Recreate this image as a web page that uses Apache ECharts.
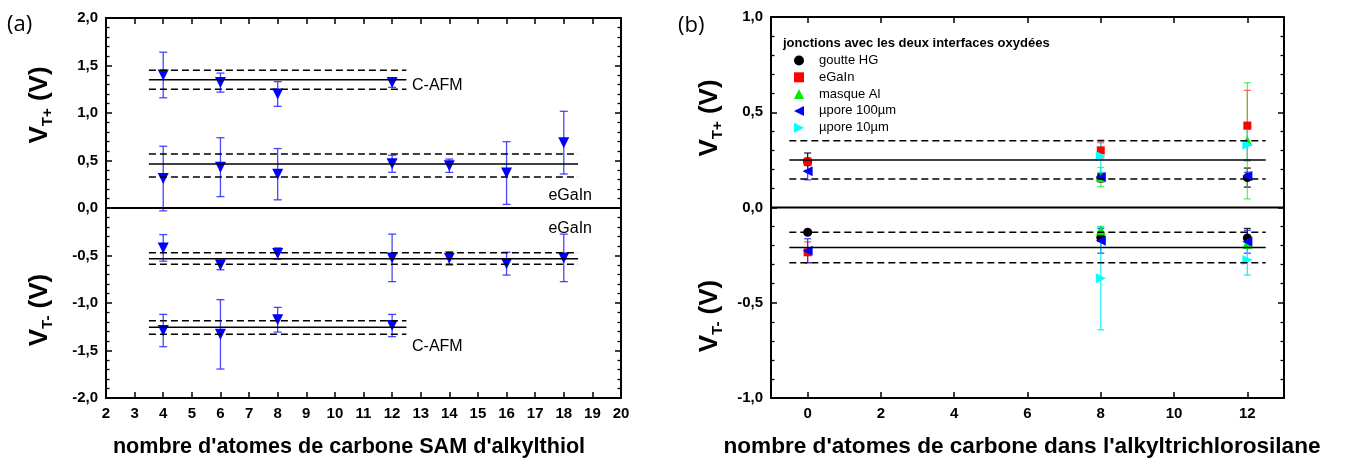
<!DOCTYPE html>
<html><head><meta charset="utf-8">
<script src="https://cdn.jsdelivr.net/npm/echarts@6/dist/echarts.min.js"></script>
<style>html,body{margin:0;padding:0;background:#fff}#c{width:1351px;height:464px}</style>
</head><body><div id="c"></div>
<script>
// ---------- Panel (a) data ----------
const aXTicks = [2, 20];
const aCafmX = [4, 6, 8, 12];
const aCafmPlusY = [1.40, 1.32, 1.20, 1.32];
const aCafmPlusErr = [0.24, 0.10, 0.13, 0.05];
const aCafmMinusY = [-1.29, -1.33, -1.176, -1.237];
const aCafmMinusErr = [0.17, 0.365, 0.13, 0.117];
const aEgainX = [4, 6, 8, 12, 14, 16, 18];
const aEgainPlusY = [0.31, 0.43, 0.356, 0.466, 0.445, 0.368, 0.688];
const aEgainPlusErr = [0.34, 0.31, 0.27, 0.09, 0.07, 0.33, 0.33];
const aEgainMinusY = [-0.42, -0.60, -0.48, -0.525, -0.53, -0.586, -0.525];
const aEgainMinusErr = [0.14, 0.05, 0.06, 0.25, 0.07, 0.12, 0.25];
// reference lines: [mean, dashed1, dashed2]
const aCafmPlusLines = [1.35, 1.45, 1.25];
const aCafmMinusLines = [-1.256, -1.186, -1.33];
const aEgainPlusLines = [0.463, 0.568, 0.326];
const aEgainMinusLines = [-0.533, -0.47, -0.593];
const aCafmSpan = [3.5, 12.5];
const aEgainSpan = [3.5, 18.5];

// ---------- Panel (b) data ----------
const bNames = ['goutte HG', 'eGaIn', 'masque Al', 'µpore 100µm', 'µpore 10µm'];
const bHgX = [0, 8, 12, 0, 8, 12];
const bHgY = [0.24, 0.155, 0.157, -0.13, -0.158, -0.16];
const bHgErr = [0.046, 0.02, 0.05, 0.01, 0.02, 0.05];
const bEgX = [0, 8, 12, 0];
const bEgY = [0.24, 0.30, 0.43, -0.235];
const bEgErr = [0.02, 0.04, 0.185, 0.055];
const bAlX = [8, 12, 8, 12];
const bAlY = [0.16, 0.35, -0.12, -0.19];
const bAlErr = [0.05, 0.305, 0.02, 0.015];
const bP100X = [0, 8, 12, 0, 8, 12];
const bP100Y = [0.19, 0.16, 0.165, -0.227, -0.175, -0.18];
const bP100Err = [0.045, 0.02, 0.02, 0.063, 0.065, 0.06];
const bP10X = [8, 12, 8, 12];
const bP10Y = [0.27, 0.33, -0.372, -0.275];
const bP10Err = [0.085, 0.08, 0.27, 0.08];
const bPlusLines = [0.25, 0.35, 0.15];
const bMinusLines = [-0.21, -0.13, -0.29];
const bSpan = [-0.5, 12.5];
const bXLabels = [0, 2, 4, 6, 8, 10, 12];

// ---------- helpers ----------
const F = 'Liberation Sans, Arial, sans-serif';
const zip3 = (xs, ys, es) => xs.map((x, i) => [x, ys[i], es ? es[i] : 0]);
const fmt = v => (Math.abs(v) < 1e-9 ? 0 : v).toFixed(1).replace('.', ',');
const TRI_LEFT = 'path://M0,5L10,0L10,10Z';
const TRI_RIGHT = 'path://M10,5L0,0L0,10Z';

function errSeries(xi, yi, data, color, capW, name) {
  return {
    type: 'custom', name: name, xAxisIndex: xi, yAxisIndex: yi, data: data, clip: true, silent: true,
    encode: { x: 0, y: 1 },
    renderItem: function (params, api) {
      const x = api.value(0), y = api.value(1), e = api.value(2);
      const t = api.coord([x, y + e]), b = api.coord([x, y - e]);
      const h = capW / 2;
      const st = { stroke: color, lineWidth: 1.3 };
      return { type: 'group', children: [
        { type: 'line', shape: { x1: t[0], y1: t[1], x2: b[0], y2: b[1] }, style: st },
        { type: 'line', shape: { x1: t[0] - h, y1: t[1], x2: t[0] + h, y2: t[1] }, style: st },
        { type: 'line', shape: { x1: b[0] - h, y1: b[1], x2: b[0] + h, y2: b[1] }, style: st }
      ] };
    }
  };
}
function refLine(xi, yi, span, y, dashed, w) {
  return {
    type: 'line', xAxisIndex: xi, yAxisIndex: yi, data: [[span[0], y], [span[1], y]],
    symbol: 'none', silent: true, animation: false,
    lineStyle: { color: '#000', width: w || 1.5, type: dashed ? [7, 4] : 'solid' }
  };
}
function scatter(xi, yi, data, name, symbol, size, color, rot) {
  return {
    type: 'scatter', name: name, xAxisIndex: xi, yAxisIndex: yi, data: data.map(d => [d[0], d[1]]),
    symbol: symbol, symbolSize: size, symbolRotate: rot || 0,
    itemStyle: { color: color, opacity: 1 }, animation: false
  };
}
function yAx(gi, min, max, pos, labels) {
  return {
    type: 'value', gridIndex: gi, min: min, max: max, interval: 0.5, position: pos,
    axisLine: { show: true, onZero: false, lineStyle: { color: '#000', width: 2 } },
    axisTick: { show: true, inside: true, length: 6, lineStyle: { color: '#000', width: 1.5 } },
    minorTick: { show: true, splitNumber: 5, length: 3.5, lineStyle: { color: '#000', width: 1.3 } },
    splitLine: { show: false },
    axisLabel: { show: labels, formatter: fmt, color: '#000', fontFamily: F, fontWeight: 'bold', fontSize: 15, margin: 8 }
  };
}
function xAx(gi, min, max, interval, pos, labels, custom) {
  const ax = {
    type: 'value', gridIndex: gi, min: min, max: max, interval: interval, position: pos,
    axisLine: { show: true, onZero: false, lineStyle: { color: '#000', width: 2 } },
    axisTick: { show: true, inside: true, length: 6, lineStyle: { color: '#000', width: 1.5 } },
    splitLine: { show: false },
    axisLabel: { show: labels, color: '#000', fontFamily: F, fontWeight: 'bold', fontSize: 15, margin: 8 }
  };
  if (custom) { ax.axisTick.customValues = custom; ax.axisLabel.customValues = custom; }
  return ax;
}
function yTitle(x, y, sub) {
  return {
    type: 'text', x: x, y: y, rotation: Math.PI / 2,
    style: {
      text: '{v|V}{s|' + sub + '}{v| (V)}',
      rich: {
        v: { fontSize: 26, fontWeight: 'bold', fontFamily: F, lineHeight: 30, verticalAlign: 'middle', fill: '#000' },
        s: { fontSize: 15, fontWeight: 'bold', fontFamily: F, lineHeight: 15, verticalAlign: 'bottom', fill: '#000' }
      },
      align: 'center', verticalAlign: 'middle'
    }
  };
}
function txt(x, y, s, size, weight, align, family) {
  return { type: 'text', x: x, y: y, style: { text: s, fontSize: size, fontWeight: weight || 'normal', fontFamily: family || F, fill: '#000', align: align || 'left', verticalAlign: 'middle' } };
}

const series = [];
// Panel (a)
series.push(refLine(0, 0, aXTicks, 0, false, 2));
[aCafmPlusLines, aCafmMinusLines].forEach(L => L.forEach((v, i) => series.push(refLine(0, 0, aCafmSpan, v, i > 0))));
[aEgainPlusLines, aEgainMinusLines].forEach(L => L.forEach((v, i) => series.push(refLine(0, 0, aEgainSpan, v, i > 0))));
const aBlue = '#0000ff', aErr = 'rgba(40,40,255,0.85)';
const aSets = [
  zip3(aCafmX, aCafmPlusY, aCafmPlusErr), zip3(aCafmX, aCafmMinusY, aCafmMinusErr),
  zip3(aEgainX, aEgainPlusY, aEgainPlusErr), zip3(aEgainX, aEgainMinusY, aEgainMinusErr)
];
aSets.forEach(d => series.push(errSeries(0, 0, d, aErr, 8, 'err')));
aSets.forEach(d => series.push(scatter(0, 0, d, 'a', 'triangle', 11, aBlue, 180)));

// Panel (b)
series.push(refLine(2, 2, [-1, 13], 0, false, 2));
bPlusLines.forEach((v, i) => series.push(refLine(2, 2, bSpan, v, i > 0)));
bMinusLines.forEach((v, i) => series.push(refLine(2, 2, bSpan, v, i > 0)));
const bDefs = [
  [bHgX, bHgY, bHgErr, 'circle', 9, '#000000', 'rgba(0,0,0,0.85)'],
  [bEgX, bEgY, bEgErr, 'rect', 8, '#ff0000', 'rgba(255,40,40,0.7)'],
  [bAlX, bAlY, bAlErr, 'triangle', 10, '#00ee00', 'rgba(40,230,40,0.7)'],
  [bP100X, bP100Y, bP100Err, TRI_LEFT, 10, '#0000ff', 'rgba(30,30,255,0.8)'],
  [bP10X, bP10Y, bP10Err, TRI_RIGHT, 10, '#00ffff', 'rgba(0,235,255,0.85)']
];
bDefs.forEach((d, k) => {
  const data = zip3(d[0], d[1], d[2]);
  series.push(errSeries(2, 2, data, d[6], 7, bNames[k] + ' err'));
  series.push(scatter(2, 2, data, bNames[k], d[3], d[4], d[5], 0));
});

const option = {
  animation: false,
  backgroundColor: '#fff',
  grid: [
    { left: 106, top: 18, width: 515, height: 380 },
    { left: 771, top: 17, width: 513, height: 381 }
  ],
  xAxis: [
    xAx(0, 2, 20, 1, 'bottom', true),
    xAx(0, 2, 20, 1, 'top', false),
    xAx(1, -1, 13, 1, 'bottom', true, bXLabels),
    xAx(1, -1, 13, 1, 'top', false, bXLabels)
  ],
  yAxis: [
    yAx(0, -2, 2, 'left', true),
    yAx(0, -2, 2, 'right', false),
    yAx(1, -1, 1, 'left', true),
    yAx(1, -1, 1, 'right', false)
  ],
  legend: {
    data: bNames.map((n, k) => ({ name: n, icon: bDefs[k][3], itemStyle: { color: bDefs[k][5] } })),
    orient: 'vertical', left: 794, top: 54, padding: 0,
    itemWidth: 10, itemHeight: 10, itemGap: 3.8, selectedMode: false,
    textStyle: { fontFamily: F, fontSize: 13, color: '#000', padding: [0, 0, 0, 10] }
  },
  series: series,
  graphic: [
    txt(7, 25, '(a)', 22, 'normal', 'left', 'Open Sans'),
    txt(678, 26, '(b)', 22, 'normal', 'left', 'Open Sans'),
    txt(412, 86, 'C-AFM', 16),
    txt(592, 196, 'eGaIn', 16, 'normal', 'right'),
    txt(592, 229, 'eGaIn', 16, 'normal', 'right'),
    txt(412, 347, 'C-AFM', 16),
    txt(783, 43, 'jonctions avec les deux interfaces oxydées', 13, 'bold'),
    txt(349, 447, "nombre d'atomes de carbone SAM d'alkylthiol", 21.6, 'bold', 'center'),
    txt(1022, 447, "nombre d'atomes de carbone dans l'alkyltrichlorosilane", 22.6, 'bold', 'center'),
    yTitle(40, 105, 'T+'),
    yTitle(40, 310, 'T-'),
    yTitle(710, 118, 'T+'),
    yTitle(710, 316, 'T-')
  ]
};
const chart = echarts.init(document.getElementById('c'), null, { renderer: 'canvas' });
chart.setOption(option);
</script>
</body></html>
